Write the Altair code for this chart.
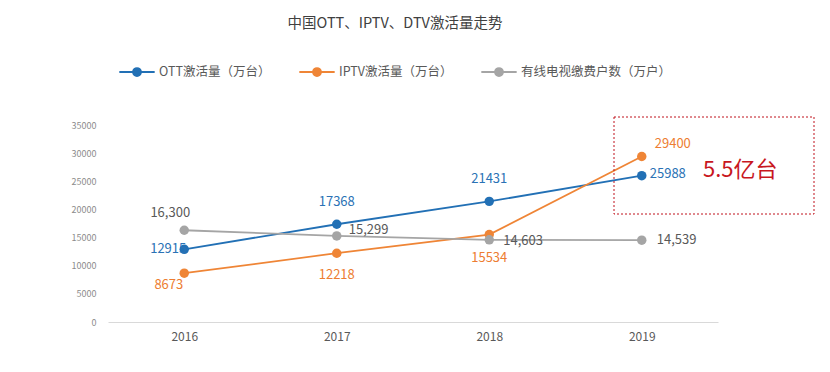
import altair as alt
import pandas as pd

years = ["2016", "2017", "2018", "2019"]
ott = [12915, 17368, 21431, 25988]
iptv = [8673, 12218, 15534, 29400]
cable = [16300, 15299, 14603, 14539]
series_names = ["OTT激活量（万台）", "IPTV激活量（万台）", "有线电视缴费户数（万户）"]
line_colors = ["#2270b5", "#ef8536", "#a5a5a5"]
label_colors = ["#2a72b5", "#ed7d31", "#595959"]
y_ticks = [0, 5000, 10000, 15000, 20000, 25000, 30000, 35000]
title_text = "中国OTT、IPTV、DTV激活量走势"
note_text = "5.5亿台"

FONT = "Noto Sans CJK SC"

rows = []
for name, vals in zip(series_names, [ott, iptv, cable]):
    for yr, v in zip(years, vals):
        rows.append({"year": yr, "series": name, "value": v})
df = pd.DataFrame(rows)

x_enc = alt.X(
    "year:O",
    scale=alt.Scale(type="point", padding=0.5),
    axis=alt.Axis(
        title=None, labelAngle=0, labelFontSize=12, labelColor="#595959",
        labelFont=FONT, domainColor="#d9d9d9", ticks=False, grid=False,
        labelPadding=9,
    ),
)
y_enc = alt.Y(
    "value:Q",
    scale=alt.Scale(domain=[0, 35000], nice=False),
    axis=alt.Axis(
        title=None, values=y_ticks, format="d", labelFontSize=9,
        labelColor="#8c8c8c", labelFont=FONT, domain=False, ticks=False,
        grid=False, labelPadding=12,
    ),
)

# legend glyph: a line with a (stroked-filled) dot in the middle
legend_path = (
    "M-1,0L1,0"
    "M-0.22,0A0.22,0.22,0,1,1,0.22,0A0.22,0.22,0,1,1,-0.22,0"
    "M-0.13,0A0.13,0.13,0,1,1,0.13,0A0.13,0.13,0,1,1,-0.13,0"
    "M-0.05,0A0.05,0.05,0,1,1,0.05,0A0.05,0.05,0,1,1,-0.05,0"
)
color_enc = alt.Color(
    "series:N",
    scale=alt.Scale(domain=series_names, range=line_colors),
    sort=series_names,
    legend=alt.Legend(
        title=None, orient="none", direction="horizontal",
        legendX=10, legendY=-72,
        symbolType=legend_path, symbolSize=1250, symbolStrokeWidth=2,
        labelFont=FONT, labelFontSize=12.5, labelColor="#595959",
        labelOffset=3, columnPadding=24,
    ),
)

base = alt.Chart(df)
lines = base.mark_line(strokeWidth=1.8).encode(x=x_enc, y=y_enc, color=color_enc)
points = base.mark_point(filled=True, size=90, opacity=1).encode(
    x=x_enc, y=y_enc, color=color_enc
)

# label placement for each series/year: (align, dx, dy)
placements = {
    series_names[0]: [("right", 2, 0), ("center", 0, -22), ("center", 0, -22), ("left", 8, -2)],
    series_names[1]: [("right", -1, 12), ("center", 0, 22), ("center", 0, 23), ("left", 13, -13)],
    series_names[2]: [("center", -14, -17), ("left", 12, -6), ("left", 14, 1), ("left", 15, 0)],
}

label_layers = []
for si, name in enumerate(series_names):
    fmt = "," if si == 2 else "d"
    for yi, yr in enumerate(years):
        align, dx, dy = placements[name][yi]
        lyr = (
            base.transform_filter(
                (alt.datum.series == name) & (alt.datum.year == yr)
            )
            .mark_text(
                align=align, baseline="middle", dx=dx, dy=dy, fontSize=13,
                font=FONT, color=label_colors[si],
            )
            .encode(x=x_enc, y=y_enc, text=alt.Text("value:Q", format=fmt))
        )
        label_layers.append(lyr)

one = pd.DataFrame({"a": [0]})
box = alt.Chart(one).mark_rect(
    filled=False, stroke="#c0131c", strokeDash=[2, 2], strokeWidth=1
).encode(x=alt.value(506), x2=alt.value(706), y=alt.value(-8), y2=alt.value(89))
note = alt.Chart(one).mark_text(
    text=note_text, fontSize=22, font=FONT, color="#c8171e",
    align="left", baseline="middle",
).encode(x=alt.value(595), y=alt.value(45))

chart = (
    alt.layer(lines, points, *label_layers, box, note)
    .properties(
        width=610, height=197,
        title=alt.TitleParams(
            title_text, fontSize=14.5, font=FONT, fontWeight="normal",
            color="#404040", anchor="middle", dx=-18, offset=22,
        ),
        autosize=alt.AutoSizeParams(type="none"),
        padding={"left": 100, "top": 117, "right": 104, "bottom": 42},
    )
    .configure_view(stroke=None)
)

chart.save("out.html", embed_options={"renderer": "svg", "actions": False})
